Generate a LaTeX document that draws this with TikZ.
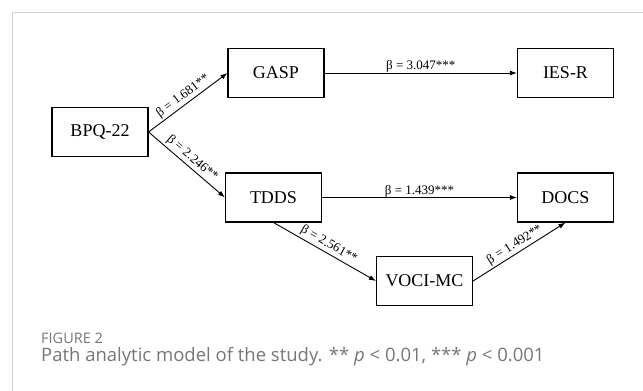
\documentclass[tikz,border=0pt]{standalone}
\usepackage{fontspec}
\setmainfont{Liberation Serif}
\newfontfamily\captionfont{Open Sans}
\usetikzlibrary{arrows.meta}
\definecolor{capgray}{RGB}{118,118,118}
\definecolor{framegray}{RGB}{210,210,210}

\begin{document}
\begin{tikzpicture}[x=1pt,y=-1pt,
    var/.style={draw, line width=1.1pt, minimum width=96pt, minimum height=49pt,
      inner sep=0pt, font=\fontsize{18}{20}\selectfont},
    pathline/.style={-{Latex[length=7pt,width=5pt]}, line width=0.9pt},
    coef/.style={font=\fontsize{13}{15}\selectfont, inner sep=2pt}]
\useasboundingbox (0,0) rectangle (643,391);
\draw[framegray, line width=1pt] (12,391) -- (12,12) -- (643,12);

\node[var] (bpq) at (100,132) {BPQ-22};
\node[var] (gasp) at (276,73) {GASP};
\node[var] (iesr) at (565.5,73) {IES-R};
\node[var] (tdds) at (273.5,197.5) {TDDS};
\node[var] (docs) at (565.5,197.5) {DOCS};
\node[var] (voci) at (424.5,281) {VOCI-MC};

\draw[pathline] (bpq.east) -- node[coef, sloped, above] {β = 1.681**} (gasp.west);
\draw[pathline] (bpq.east) -- node[coef, sloped, above] {β = 2.246**} (tdds.west);
\draw[pathline] (gasp.east) -- node[coef, above, yshift=-2pt] {β = 3.047***} (iesr.west);
\draw[pathline] (tdds.east) -- node[coef, above, yshift=-2pt] {β = 1.439***} (docs.west);
\draw[pathline] (tdds.south) -- node[coef, sloped, above] {β = 2.561**} (voci.west);
\draw[pathline] (voci.east) -- node[coef, sloped, above] {β = 1.492**} (docs.south);

\node[anchor=base west, inner sep=0pt, text=capgray, font=\captionfont\fontsize{14.5}{16}\selectfont]
  (figlabel) at (41,343) {FIGURE 2};
\node[anchor=base west, inner sep=0pt, text=capgray, font=\captionfont\fontsize{18.5}{20}\selectfont]
  (figcaption) at (41,361) {Path analytic model of the study. ** \textit{p} < 0.01, *** \textit{p} < 0.001};
\end{tikzpicture}
\end{document}
